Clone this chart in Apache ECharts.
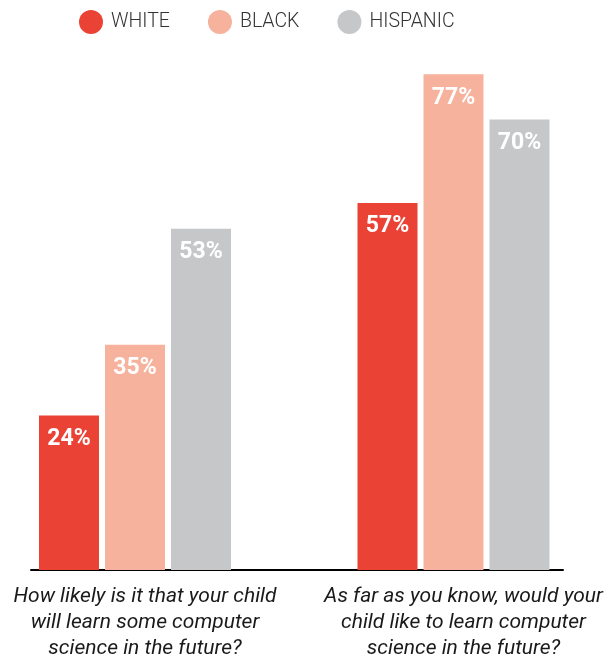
<!DOCTYPE html>
<html><head><meta charset="utf-8">
<script src="https://cdn.jsdelivr.net/npm/echarts@6/dist/echarts.min.js"></script>
<style>html,body{margin:0;padding:0;background:#fff}#c{width:616px;height:656px}</style>
</head><body><div id="c"></div>
<script>
const categories = ['How likely is it that your child\nwill learn some computer\nscience in the future?',
  'As far as you know, would your\nchild like to learn computer\nscience in the future?'];
const seriesNames = ['WHITE', 'BLACK', 'HISPANIC'];
const white = [24, 57];
const black = [35, 77];
const hispanic = [53, 70];
const colors = ['#EA4335', '#F6B29C', '#C6C7C9'];

const chart = echarts.init(document.getElementById('c'));
const mk = (name, data, color) => ({
  name, type: 'bar', data, barWidth: 60, barGap: '10%', clip: false,
  xAxisIndex: 0, yAxisIndex: 0,
  itemStyle: { color },
  label: { show: true, position: 'insideTop', distance: 12, color: '#fff',
    fontFamily: 'Roboto', fontWeight: 'bold', fontSize: 23, formatter: '{c}%' }
});
chart.setOption({
  animation: false,
  legend: {
    data: seriesNames, left: 79, top: 10, padding: 0, icon: 'circle', itemWidth: 24, itemHeight: 24, itemGap: 38,
    textStyle: { fontFamily: 'Roboto', fontWeight: 300, fontSize: 19.5, color: '#333', padding: [0, 0, 0, 3] }
  },
  grid: [
    { left: 135, right: 162.5, top: 55, bottom: 86, outerBoundsMode: 'none', containLabel: false },
    { left: 31, right: 53, top: 55, bottom: 86, outerBoundsMode: 'none', containLabel: false }
  ],
  xAxis: [
    { type: 'category', data: categories, gridIndex: 0, boundaryGap: false,
      axisLine: { show: false }, axisTick: { show: false },
      axisLabel: { interval: 0, margin: 14, fontFamily: 'Roboto', fontStyle: 'italic', fontSize: 21,
        color: '#1a1a1a', lineHeight: 26, padding: [0, 0, 0, 20], hideOverlap: false } },
    { type: 'value', gridIndex: 1, min: 0, max: 1,
      axisLine: { show: true, lineStyle: { color: '#000', width: 2 } },
      axisTick: { show: false }, axisLabel: { show: false }, splitLine: { show: false } }
  ],
  yAxis: [
    { type: 'value', min: 0, max: 80, gridIndex: 0, show: false, splitLine: { show: false } },
    { type: 'value', min: 0, max: 1, gridIndex: 1, show: false, splitLine: { show: false } }
  ],
  series: [mk(seriesNames[0], white, colors[0]), mk(seriesNames[1], black, colors[1]), mk(seriesNames[2], hispanic, colors[2])]
});
</script></body></html>
